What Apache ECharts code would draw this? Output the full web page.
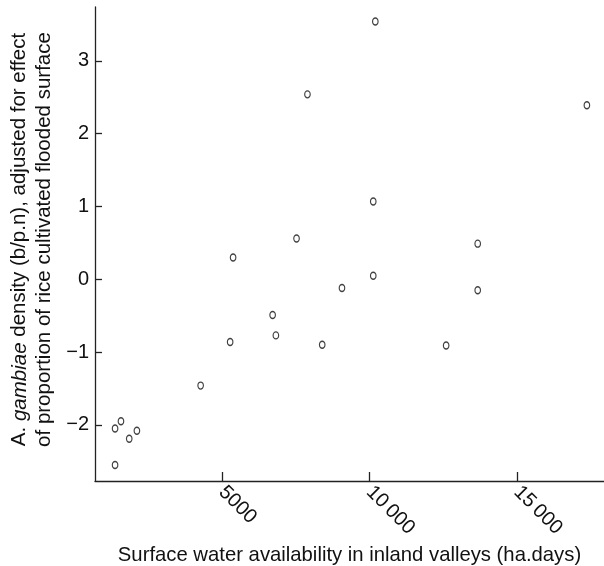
<!DOCTYPE html>
<html>
<head>
<meta charset="utf-8">
<script src="https://cdn.jsdelivr.net/npm/echarts@6/dist/echarts.min.js"></script>
<style>
  html, body { margin: 0; padding: 0; background: #fff; }
  #main { width: 604px; height: 566px; }
</style>
</head>
<body>
<div id="main"></div>
<script>
// surface water availability (ha.days)
var waterDays = [10200, 7900, 10130, 7530, 5380, 10130, 9070, 6720, 6830, 5280, 8400,
                 17370, 13670, 13670, 12600, 4280, 1380, 1580, 1860, 2120, 1380];
// adjusted A. gambiae density
var density = [3.54, 2.54, 1.07, 0.56, 0.30, 0.05, -0.12, -0.49, -0.77, -0.86, -0.90,
               2.39, 0.49, -0.15, -0.91, -1.46, -2.05, -1.95, -2.19, -2.08, -2.55];

var xTicks = [5000, 10000, 15000];
var xTickLabels = ['5000', '10\u2009000', '15\u2009000'];
var yTicks = [-2, -1, 0, 1, 2, 3];

var font = '"Liberation Sans", Arial, sans-serif';

function initOption(){
    var points = waterDays.map(function (x, i) { return [x, density[i]]; });
    var option = {
        animation: false,
        backgroundColor: '#fff',
        grid: {
            left: 95,
            right: 0,
            top: 7,
            bottom: 85,
            outerBoundsMode: 'none'
        },
        xAxis: {
            type: 'value',
            min: 700,
            max: 17950,
            name: 'Surface water availability in inland valleys (ha.days)',
            nameLocation: 'middle',
            nameGap: 59,
            nameTextStyle: { fontFamily: font, fontSize: 20.3, color: '#111' },
            axisLine: { show: true, onZero: false, lineStyle: { color: '#222', width: 1.3 } },
            axisTick: { show: true, inside: true, length: 9, customValues: xTicks,
                        lineStyle: { color: '#222', width: 1.3 } },
            axisLabel: {
                customValues: xTicks,
                rotate: -45,
                margin: 8,
                fontFamily: font,
                fontSize: 20,
                color: '#111',
                formatter: function (v) { return xTickLabels[xTicks.indexOf(v)]; }
            },
            splitLine: { show: false }
        },
        yAxis: {
            type: 'value',
            min: -2.77,
            max: 3.74,
            name: '{n|A. }{i|gambiae}{n| density (b/p.n), adjusted for effect}\n{n|of proportion of rice cultivated flooded surface}',
            nameLocation: 'middle',
            nameRotate: 90,
            nameGap: 35,
            nameTextStyle: {
                fontFamily: font, fontSize: 20.5, color: '#111', padding: [0, 0, 0, 9],
                rich: {
                    n: { fontFamily: font, fontSize: 20.5, color: '#111', lineHeight: 25 },
                    i: { fontFamily: font, fontSize: 20.5, color: '#111', lineHeight: 25, fontStyle: 'italic' }
                }
            },
            axisLine: { show: true, onZero: false, lineStyle: { color: '#222', width: 1.3 } },
            axisTick: { show: true, inside: true, length: 7, customValues: yTicks,
                        lineStyle: { color: '#222', width: 1.3 } },
            axisLabel: {
                customValues: yTicks,
                margin: 6,
                fontFamily: font,
                fontSize: 20,
                color: '#111',
                formatter: function (v) { return String(v).replace('-', '\u2212'); }
            },
            splitLine: { show: false }
        },
        series: [
            {
                type: 'scatter',
                data: points,
                symbol: 'circle',
                symbolSize: [5.5, 7],
                itemStyle: { color: '#fff', borderColor: '#111', borderWidth: 1.3 }
            }
        ]
    };
    return option;
}

var myChart = echarts.init(document.getElementById('main'), null, { renderer: 'canvas' });
myChart.setOption(initOption());
</script>
</body>
</html>
